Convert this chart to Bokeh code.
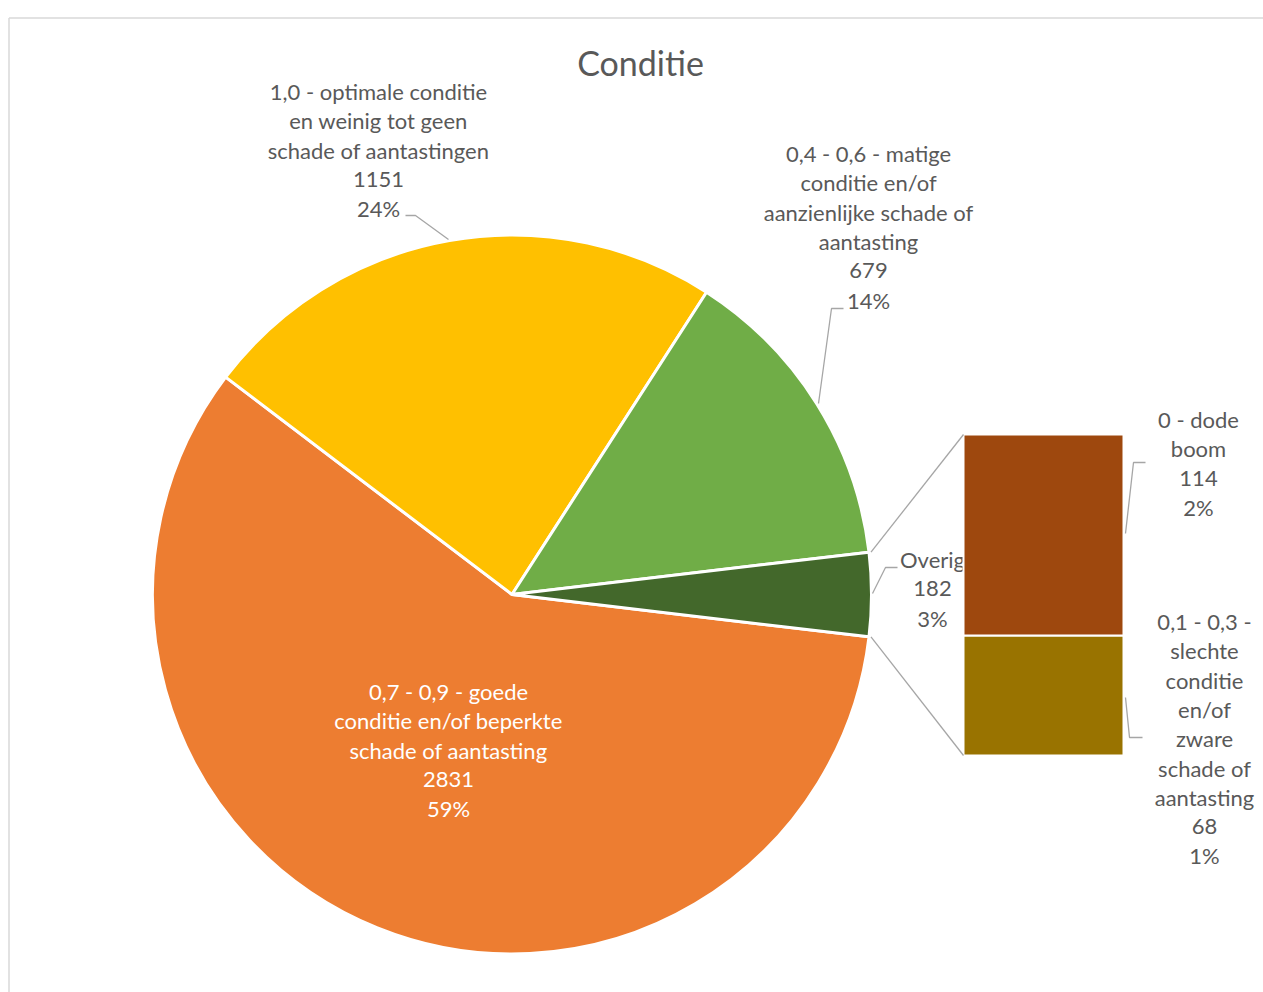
import math
from bokeh.plotting import figure
from bokeh.models import Range1d
from bokeh.core.properties import value
from bokeh.embed import file_html
from bokeh.resources import INLINE

# ---- data ----
pie_names = [
    "0,7 - 0,9 - goede\nconditie en/of beperkte\nschade of aantasting",
    "1,0 - optimale conditie\nen weinig tot geen\nschade of aantastingen",
    "0,4 - 0,6 - matige\nconditie en/of\naanzienlijke schade of\naantasting",
    "Overig",
]
pie_values = [2831, 1151, 679, 182]
pie_pcts = ["59%", "24%", "14%", "3%"]
pie_colors = ["#ED7D31", "#FFC000", "#70AD47", "#43682B"]

bar_names = [
    "0,1 - 0,3 -\nslechte\nconditie\nen/of\nzware\nschade of\naantasting",
    "0 - dode\nboom",
]
bar_values = [68, 114]
bar_pcts = ["1%", "2%"]
bar_colors = ["#997300", "#9E480E"]

title = "Conditie"

# ---- layout ----
W, H = 1263, 992


def X(sx):
    return sx


def Y(sy):
    return H - sy


FONT = "Lato"
GREY = "#595959"
FS = "22px"
LH = 29.3

p = figure(width=W, height=H, output_backend="svg", toolbar_location=None,
           x_range=Range1d(0, W), y_range=Range1d(0, H), min_border=0)
p.axis.visible = False
p.grid.visible = False
p.outline_line_color = None
p.background_fill_color = "white"
p.border_fill_color = "white"

# chart frame (top and left edges visible)
p.line([X(8.5), X(1300)], [Y(17.5), Y(17.5)], line_color="#D9D9D9", line_width=1.5)
p.line([X(8.5), X(8.5)], [Y(17.5), Y(1100)], line_color="#D9D9D9", line_width=1.5)

# ---- pie ----
cx, cy, R = X(511.5), Y(594), 359.5
total = sum(pie_values)
ang = [v / total * 2 * math.pi for v in pie_values]
# Overig centred at 0 rad, then counterclockwise: green, yellow, orange
starts, ends = [0] * 4, [0] * 4
starts[3] = -ang[3] / 2
ends[3] = ang[3] / 2
cur = ends[3]
for i in [2, 1, 0]:
    starts[i] = cur
    ends[i] = cur + ang[i]
    cur = ends[i]

p.wedge(x=[cx] * 4, y=[cy] * 4, radius=R, start_angle=starts, end_angle=ends,
        fill_color=pie_colors, line_color="white", line_width=3)

# ---- labels helper ----


def label(lines_text, sx, sy_first, color=GREY, size=FS):
    lines = lines_text.split("\n")
    xs = [X(sx)] * len(lines)
    ys = [Y(sy_first + i * LH) for i in range(len(lines))]
    p.text(x=xs, y=ys, text=lines, text_font=value(FONT), text_font_size=size,
           text_color=color, text_align="center", text_baseline="middle")


def leader(pts):
    p.line([X(a) for a, b in pts], [Y(b) for a, b in pts],
           line_color="#A6A6A6", line_width=1.3)


# Overig label (partly hidden behind the bar)
label(f"{pie_names[3]}\n{pie_values[3]}\n{pie_pcts[3]}", 932, 559)
leader([(872, 593), (885, 567), (897, 567)])

# ---- bar of pie ----
bx0, bx1 = X(963), X(1123)
bbot, btop = Y(755), Y(434)
scale = (btop - bbot) / sum(bar_values)
bottoms = []
acc = bbot
for v in bar_values:
    bottoms.append(acc)
    acc += v * scale
tops = [b + v * scale for b, v in zip(bottoms, bar_values)]
p.vbar(x=[(bx0 + bx1) / 2] * 2, width=bx1 - bx0, bottom=bottoms, top=tops,
       fill_color=bar_colors, line_color="white", line_width=2)

# connector lines from pie to bar
ox = cx + R * math.cos(ends[3])
oy_top = cy + R * math.sin(ends[3])
oy_bot = cy + R * math.sin(starts[3])
p.line([ox + 2, bx0], [oy_top, tops[-1]], line_color="#A6A6A6", line_width=1.3)
p.line([ox + 2, bx0], [oy_bot, bottoms[0]], line_color="#A6A6A6", line_width=1.3)

# ---- pie labels ----
label(f"{pie_names[0]}\n{pie_values[0]}\n{pie_pcts[0]}", 448, 691, color="white")
label(f"{pie_names[1]}\n{pie_values[1]}\n{pie_pcts[1]}", 378, 91)
leader([(405, 215), (415, 215), (448, 239)])
label(f"{pie_names[2]}\n{pie_values[2]}\n{pie_pcts[2]}", 868, 153)
leader([(843, 308), (831, 308), (818, 403)])

# ---- bar labels ----
label(f"{bar_names[1]}\n{bar_values[1]}\n{bar_pcts[1]}", 1198, 419)
leader([(1125, 533), (1133, 462), (1145, 462)])
label(f"{bar_names[0]}\n{bar_values[0]}\n{bar_pcts[0]}", 1204, 621)
leader([(1125, 697), (1129, 737), (1142, 737)])

# ---- title ----
p.text(x=[X(640)], y=[Y(62)], text=[title], text_font=value(FONT),
       text_font_size="34px", text_color=GREY, text_align="center",
       text_baseline="middle")

open("out.html", "w").write(file_html(p, INLINE))
